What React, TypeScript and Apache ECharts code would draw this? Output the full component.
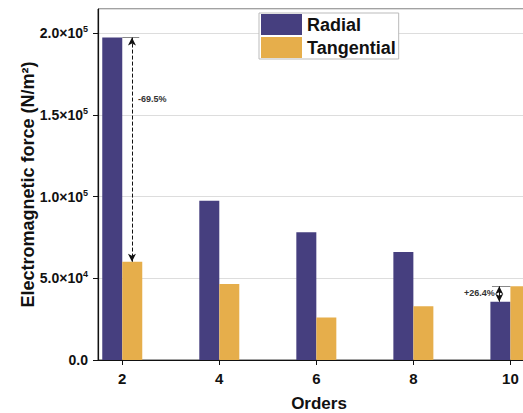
import React, { useEffect, useRef } from "react";
import * as echarts from "echarts";

const orders = [2, 4, 6, 8, 10];
const radial = [197500, 97500, 78300, 66100, 35700];
const tangential = [60200, 46500, 26100, 33000, 45100];

const FONT = "'Liberation Sans', Arial, sans-serif";

function fmtY(v: number): string {
  if (v === 0) return "{a|0.0}";
  const exp = Math.floor(Math.log10(v));
  const m = (v / Math.pow(10, exp)).toFixed(1);
  return `{a|${m}×10}{s|${exp}}`;
}

export default function App() {
  const ref = useRef<HTMLDivElement>(null);
  useEffect(() => {
    if (!ref.current) return;
    const chart = echarts.init(ref.current, undefined, { renderer: "svg" });
    const arrowLine = (x: number, y1: number, y2: number, dashed: boolean) => [
      { coord: [x, y1], symbol: "arrow", symbolSize: [6, 8], lineStyle: { type: dashed ? "dashed" : "solid", color: "#111", width: 1 } },
      { coord: [x, y2], symbol: "arrow", symbolSize: [6, 8] },
    ];
    const hLine = (x1: number, x2: number, y: number) => [
      { coord: [x1, y], symbol: "none", lineStyle: { type: "solid", color: "#888", width: 1 } },
      { coord: [x2, y], symbol: "none" },
    ];
    chart.setOption({
      animation: false,
      backgroundColor: "#fff",
      grid: {
        left: 98,
        top: 9,
        bottom: 53,
        right: -17,
        outerBoundsMode: "none",
        containLabel: false,
        show: true,
        borderColor: "#444",
        borderWidth: 1,
      },
      legend: {
        orient: "vertical",
        left: 259,
        top: 13,
        icon: "rect",
        itemWidth: 41,
        itemHeight: 21,
        itemGap: 2,
        padding: [1, 3, 1, 2],
        borderColor: "#bbb",
        borderWidth: 1,
        backgroundColor: "#fff",
        textStyle: { fontFamily: FONT, fontWeight: "bold", fontSize: 18, color: "#111" },
        data: ["Radial", "Tangential"],
      },
      xAxis: {
        type: "value",
        min: 1.5,
        max: 10.61,
        name: "Orders",
        nameLocation: "middle",
        nameGap: 35,
        nameTextStyle: { fontFamily: FONT, fontWeight: "bold", fontSize: 17, color: "#111" },
        axisLine: { show: true, lineStyle: { color: "#111", width: 1.2 } },
        axisTick: { show: true, length: 5, lineStyle: { color: "#111" }, customValues: orders },
        axisLabel: {
          customValues: orders,
          fontFamily: FONT,
          fontWeight: "bold",
          fontSize: 15,
          color: "#111",
          margin: 11,
        },
        splitLine: { show: false },
      },
      yAxis: {
        type: "value",
        min: 0,
        max: 215000,
        interval: 50000,
        name: "Electromagnetic force (N/m²)",
        nameLocation: "middle",
        nameGap: 61,
        nameMoveOverlap: false,
        nameTextStyle: { fontFamily: FONT, fontWeight: "bold", fontSize: 18, color: "#111" },
        axisLine: { show: true, lineStyle: { color: "#111", width: 1.2 } },
        axisTick: { show: true, length: 5, lineStyle: { color: "#111" } },
        axisLabel: {
          showMaxLabel: false,
          margin: 10,
          formatter: fmtY,
          rich: {
            a: { fontFamily: FONT, fontWeight: "bold", fontSize: 14, color: "#111" },
            s: { fontFamily: FONT, fontWeight: "bold", fontSize: 9, color: "#111", padding: [0, 0, 8, 0] },
          },
        },
        splitLine: { show: true, lineStyle: { color: "#ddd", width: 1 } },
      },
      series: [
        {
          name: "Radial",
          type: "bar",
          barWidth: 20,
          barGap: "0%",
          itemStyle: { color: "#463f7f" },
          data: orders.map((o, i) => [o, radial[i]]),
        },
        {
          name: "Tangential",
          type: "bar",
          barWidth: 20,
          barGap: "0%",
          itemStyle: { color: "#e6ae4b" },
          data: orders.map((o, i) => [o, tangential[i]]),
        },
        {
          name: "annotations",
          type: "line",
          data: [],
          silent: true,
          markLine: {
            silent: true,
            label: { show: false },
            data: [
              hLine(2.0, 2.35, radial[0]),
              arrowLine(2.2, radial[0], tangential[0], true),
              hLine(9.62, 10.0, tangential[4]),
              arrowLine(9.77, tangential[4], radial[4], false),
            ],
          },
          markPoint: {
            silent: true,
            symbol: "circle",
            symbolSize: 1,
            itemStyle: { color: "rgba(0,0,0,0)" },
            label: {
              show: true,
              position: "inside",
              fontFamily: FONT,
              fontWeight: "bold",
              fontSize: 9,
              color: "#333",
              formatter: (p: any) => p.name,
            },
            data: [
              { name: "-69.5%", coord: [2.62, 159700] },
              { name: "+26.4%", coord: [9.36, 41000] },
            ],
          },
        },
      ],
    });
    return () => chart.dispose();
  }, []);
  return (
    <div
      ref={ref}
      style={{ position: "absolute", left: 0, top: 0, width: 523, height: 413 }}
    />
  );
}
